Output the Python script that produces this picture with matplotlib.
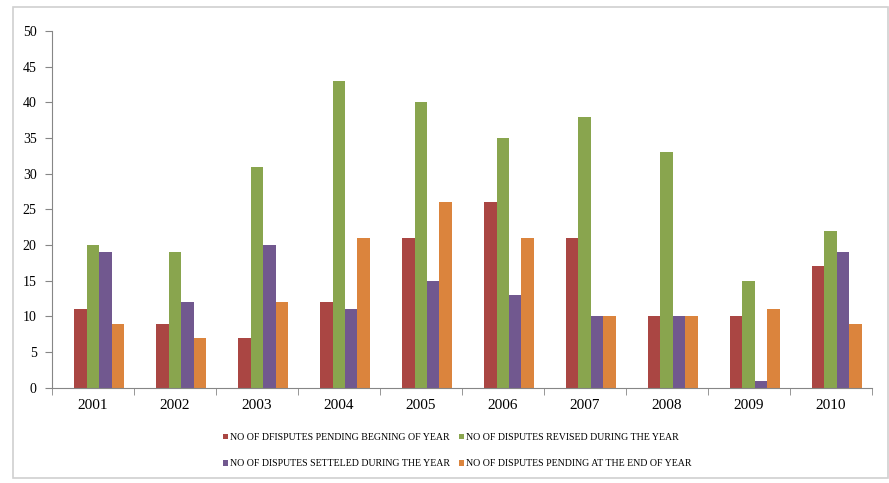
import numpy as np
import matplotlib
matplotlib.use("Agg")
import matplotlib.pyplot as plt
from matplotlib.patches import Rectangle

years = ["2001", "2002", "2003", "2004", "2005", "2006", "2007", "2008", "2009", "2010"]
pending_begin = [11, 9, 7, 12, 21, 26, 21, 10, 10, 17]
revised = [20, 19, 31, 43, 40, 35, 38, 33, 15, 22]
settled = [19, 12, 20, 11, 15, 13, 10, 10, 1, 19]
pending_end = [9, 7, 12, 21, 26, 21, 10, 10, 11, 9]

labels = ["NO OF DFISPUTES PENDING BEGNING OF YEAR",
          "NO OF DISPUTES REVISED DURING THE YEAR",
          "NO OF DISPUTES SETTELED DURING THE YEAR",
          "NO OF DISPUTES PENDING AT THE END OF YEAR"]
colors = ["#AA4643", "#89A54E", "#71588F", "#DB843D"]

plt.rcParams['font.family'] = ['Liberation Serif', 'DejaVu Serif']

fig = plt.figure(figsize=(8.89, 4.83), dpi=100)
ax = fig.add_axes([0.0585, 0.197, 0.922, 0.739])

# chart frame like the office chart object
fig.patches.append(Rectangle((13 / 889, 5 / 483), 875 / 889, 471 / 483,
                             transform=fig.transFigure, fill=False,
                             edgecolor="#d0d0d0", linewidth=1.2))

x = np.arange(len(years))
w = 0.152
shift = 0.075  # bars sit a little right of the label in the original
series = [pending_begin, revised, settled, pending_end]
for i, (vals, c) in enumerate(zip(series, colors)):
    ax.bar(x + shift + (i - 1.5) * w, vals, width=w, color=c, label=labels[i])

ax.set_xlim(-0.5, len(years) - 0.5)
ax.set_ylim(0, 50)
ax.set_yticks(range(0, 51, 5))
ax.set_xticks(x)
ax.set_xticklabels(years, fontsize=11)
ax.set_xticks(np.arange(-0.5, len(years)), minor=True)
ax.tick_params(axis='x', which='major', length=0, pad=8)
ax.tick_params(axis='x', which='minor', length=5, color="#868686", direction='out')
ax.tick_params(axis='y', length=5, color="#868686", labelsize=10, pad=6)
for s in ["top", "right"]:
    ax.spines[s].set_visible(False)
for s in ["left", "bottom"]:
    ax.spines[s].set_color("#868686")

# row-wise legend order: red, green / purple, orange
handles, lbls = ax.get_legend_handles_labels()
order = [0, 2, 1, 3]
leg = fig.legend([handles[k] for k in order], [lbls[k] for k in order],
                 loc="upper left", bbox_to_anchor=(0.246, 0.112),
                 ncol=2, frameon=False, fontsize=7.15, handlelength=0.5,
                 handleheight=0.5, handletextpad=0.2, columnspacing=0.9,
                 labelspacing=1.75, borderaxespad=0)

fig.savefig("out.png", dpi=100)
